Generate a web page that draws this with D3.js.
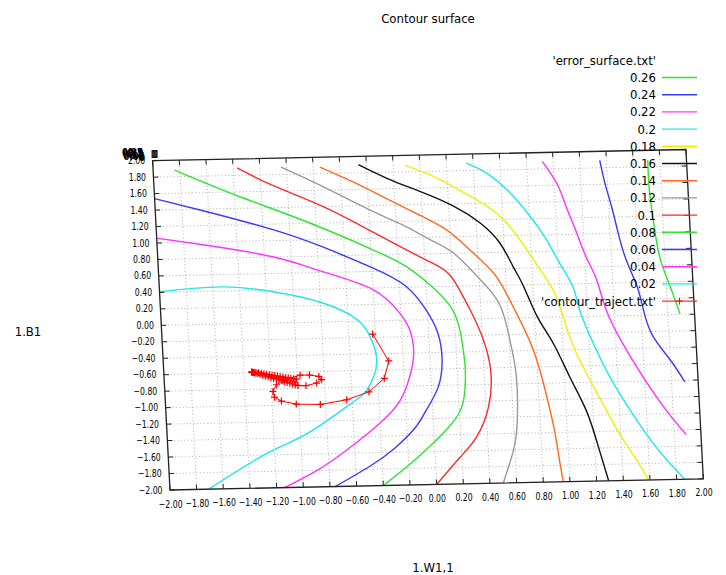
<!DOCTYPE html>
<html><head><meta charset="utf-8">
<script src="https://cdn.jsdelivr.net/npm/d3@7"></script>
<style>
html,body{margin:0;padding:0;background:#fff;}
svg{display:block;}
text{font-family:"DejaVu Sans Condensed","DejaVu Sans",sans-serif;font-stretch:condensed;fill:#000;}
</style></head><body>
<svg id="chart" width="726" height="575"></svg>
<script>
// Contour levels of the error surface (legend order, top to bottom)
const levelLabels = ["0.26","0.24","0.22","0.2","0.18","0.16","0.14","0.12","0.1","0.08","0.06","0.04","0.02"];
const levelColors = ["#2ee62e","#3a3aff","#ff33ff","#1ee8e8","#f0f000","#111111","#ff6a1f","#9a9a9a","#ff2a2a","#2ee62e","#3a3aff","#ff33ff","#1ee8e8"];

// Iso-lines, as (W1,1 ; B1) pairs
const contour026 = [[1.71,1.88],[1.71,1.52],[1.73,1.11],[1.76,0.71],[1.82,0.38],[1.89,0.01]];
const contour024 = [[1.35,1.89],[1.38,1.61],[1.42,1.33],[1.46,1.00],[1.51,0.67],[1.58,0.35],[1.62,0.05],[1.68,-0.26],[1.80,-0.55],[1.90,-0.82]];
const contour022 = [[0.92,1.89],[1.02,1.62],[1.08,1.34],[1.15,1.01],[1.21,0.72],[1.28,0.44],[1.34,0.07],[1.45,-0.34],[1.59,-0.75],[1.75,-1.16],[1.89,-1.46]];
const contour020 = [[0.35,1.89],[0.50,1.76],[0.67,1.51],[0.81,1.22],[0.92,0.94],[1.01,0.65],[1.10,0.36],[1.14,0.08],[1.23,-0.33],[1.34,-0.74],[1.48,-1.15],[1.64,-1.56],[1.78,-1.85],[1.86,-2.00]];
const contour018 = [[-0.11,1.88],[0.07,1.76],[0.24,1.61],[0.49,1.36],[0.65,1.11],[0.77,0.82],[0.88,0.53],[0.97,0.25],[1.03,-0.10],[1.10,-0.45],[1.24,-0.94],[1.39,-1.43],[1.51,-1.76],[1.59,-2.00]];
const contour016 = [[-0.46,1.90],[-0.23,1.71],[-0.01,1.56],[0.24,1.37],[0.43,1.16],[0.57,0.91],[0.66,0.62],[0.73,0.38],[0.82,0.01],[0.93,-0.32],[1.04,-0.73],[1.15,-1.14],[1.22,-1.54],[1.29,-2.00]];
const contour014 = [[-0.75,1.88],[-0.48,1.67],[-0.24,1.46],[-0.02,1.27],[0.18,1.08],[0.34,0.84],[0.51,0.55],[0.62,0.22],[0.76,-0.31],[0.84,-0.80],[0.90,-1.33],[0.93,-1.74],[0.95,-2.00]];
const contour012 = [[-1.04,1.89],[-0.73,1.64],[-0.37,1.33],[-0.12,1.13],[0.05,0.97],[0.22,0.80],[0.41,0.47],[0.55,0.14],[0.61,-0.31],[0.64,-0.71],[0.63,-1.24],[0.59,-1.60],[0.50,-2.00]];
const contour010 = [[-1.37,1.89],[-1.11,1.67],[-0.74,1.40],[-0.38,1.08],[-0.13,0.85],[0.04,0.70],[0.17,0.56],[0.25,0.35],[0.32,0.11],[0.40,-0.22],[0.45,-0.63],[0.42,-1.07],[0.32,-1.43],[0.19,-1.67],[0.00,-2.00]];
const contour008 = [[-1.84,1.88],[-1.36,1.54],[-0.87,1.22],[-0.38,0.86],[-0.14,0.65],[0.03,0.42],[0.19,0.11],[0.245,-0.25],[0.26,-0.58],[0.25,-0.85],[0.21,-1.10],[0.10,-1.33],[-0.04,-1.54],[-0.21,-1.77],[-0.40,-2.00]];
const contour006 = [[-2.00,1.54],[-1.62,1.37],[-1.12,1.13],[-0.76,0.91],[-0.39,0.64],[-0.15,0.41],[-0.01,0.12],[0.07,-0.17],[0.09,-0.49],[0.05,-0.82],[-0.05,-1.10],[-0.14,-1.31],[-0.30,-1.55],[-0.49,-1.76],[-0.76,-2.00]];
const contour004 = [[-2.00,1.06],[-1.63,0.96],[-1.13,0.80],[-0.77,0.61],[-0.40,0.38],[-0.21,0.09],[-0.14,-0.12],[-0.12,-0.40],[-0.16,-0.69],[-0.24,-0.97],[-0.40,-1.24],[-0.66,-1.56],[-0.89,-1.80],[-1.14,-2.00]];
const contour002 = [[-2.00,0.41],[-1.75,0.44],[-1.50,0.45],[-1.15,0.38],[-0.78,0.23],[-0.53,0.02],[-0.44,-0.19],[-0.40,-0.44],[-0.43,-0.68],[-0.51,-0.88],[-0.64,-1.03],[-0.95,-1.35],[-1.26,-1.58],[-1.71,-2.00]];
const contourByLevel = [contour026,contour024,contour022,contour020,contour018,contour016,contour014,contour012,contour010,contour008,contour006,contour004,contour002];

// Weight trajectory during training
const trajectory = [[-0.42,-0.16],[-0.31,-0.49],[-0.35,-0.70],[-0.47,-0.86],[-0.64,-0.95],[-0.84,-1.00],[-1.02,-0.99],[-1.13,-0.95],[-1.18,-0.90],[-1.19,-0.83],[-1.16,-0.75],[-1.11,-0.70],[-0.98,-0.64],[-0.91,-0.64],[-0.84,-0.66],[-0.82,-0.70],[-0.86,-0.74],[-0.94,-0.77],
  [-1.00,-0.765],[-1.01,-0.687],[-1.02,-0.756],[-1.03,-0.681],[-1.04,-0.745],[-1.05,-0.675],[-1.06,-0.735],[-1.07,-0.669],[-1.08,-0.724],[-1.09,-0.663],[-1.10,-0.714],[-1.11,-0.657],[-1.12,-0.703],[-1.13,-0.650],[-1.14,-0.693],[-1.15,-0.644],[-1.16,-0.682],[-1.17,-0.638],[-1.18,-0.672],[-1.19,-0.632],[-1.20,-0.662],[-1.21,-0.626],[-1.22,-0.651],[-1.23,-0.620],[-1.24,-0.641],[-1.25,-0.613],[-1.26,-0.631],[-1.27,-0.607],[-1.28,-0.620],[-1.29,-0.601],[-1.30,-0.610],[-1.31,-0.597],[-1.32,-0.602],[-1.325,-0.594],[-1.33,-0.597],[-1.335,-0.591],[-1.34,-0.592],[-1.342,-0.588]];

const xTickValues = [-2.0,-1.8,-1.6,-1.4,-1.2,-1.0,-0.8,-0.6,-0.4,-0.2,0.0,0.2,0.4,0.6,0.8,1.0,1.2,1.4,1.6,1.8,2.0];
const yTickValues = [-2.0,-1.8,-1.6,-1.4,-1.2,-1.0,-0.8,-0.6,-0.4,-0.2,0.0,0.2,0.4,0.6,0.8,1.0,1.2,1.4,1.6,1.8,2.0];
const zTickLabels = ["0.3","0.25","0.2","0.15","0.1","0.05","0"];

const svg = d3.select("#chart");
svg.append("rect").attr("width",726).attr("height",575).attr("fill","#fff");

// Base plane seen from a slightly rotated viewpoint: an affine map of the two scales
const sx = d3.scaleLinear().domain([-2,2]).range([0,1]);
const sy = d3.scaleLinear().domain([-2,2]).range([0,1]);
const O = [170,490], U = [533.3,-11.2], V = [-17.4,-329.3];
function proj(x,y){ const a=sx(x), b=sy(y); return [O[0]+U[0]*a+V[0]*b, O[1]+U[1]*a+V[1]*b]; }
const uLen = Math.hypot(U[0],U[1]), vLen = Math.hypot(V[0],V[1]);
const uDir = [U[0]/uLen,U[1]/uLen], vDir = [V[0]/vLen,V[1]/vLen];

const fmt = d3.format(".2f");

// grid
const grid = svg.append("g").attr("stroke","#a8a8a8").attr("stroke-width",0.9).attr("stroke-dasharray","1,2.4");
xTickValues.forEach(v=>{ const p=proj(v,-2), q=proj(v,2);
  grid.append("line").attr("x1",p[0]).attr("y1",p[1]).attr("x2",q[0]).attr("y2",q[1]); });
yTickValues.forEach(v=>{ const p=proj(-2,v), q=proj(2,v);
  grid.append("line").attr("x1",p[0]).attr("y1",p[1]).attr("x2",q[0]).attr("y2",q[1]); });

// contours
const line = d3.line().x(d=>proj(d[0],d[1])[0]).y(d=>proj(d[0],d[1])[1]).curve(d3.curveNatural);
contourByLevel.forEach((c,i)=>{
  svg.append("path").attr("d",line(c)).attr("fill","none").attr("stroke",levelColors[i]).attr("stroke-width",1.4);
});

// trajectory
const tline = d3.line().x(d=>proj(d[0],d[1])[0]).y(d=>proj(d[0],d[1])[1]);
svg.append("path").attr("d",tline(trajectory)).attr("fill","none").attr("stroke","#ff0000").attr("stroke-width",1);
const plus = "M-3.5,0H3.5M0,-3.5V3.5";
svg.append("g").selectAll("path").data(trajectory).join("path")
  .attr("d",plus).attr("transform",d=>{const p=proj(d[0],d[1]);return `translate(${p[0]},${p[1]})`;})
  .attr("stroke","#ff0000").attr("stroke-width",1.2).attr("fill","none");

// border
const corners = [proj(-2,-2),proj(2,-2),proj(2,2),proj(-2,2)];
svg.append("path").attr("d","M"+corners.map(p=>p.join(",")).join("L")+"Z")
  .attr("fill","none").attr("stroke","#222").attr("stroke-width",1.3);

// ticks
const ticks = svg.append("g").attr("stroke","#222").attr("stroke-width",1);
const tl = 5;
xTickValues.forEach(v=>{
  let p=proj(v,-2); ticks.append("line").attr("x1",p[0]).attr("y1",p[1]).attr("x2",p[0]+vDir[0]*tl).attr("y2",p[1]+vDir[1]*tl);
  p=proj(v,2); ticks.append("line").attr("x1",p[0]).attr("y1",p[1]).attr("x2",p[0]-vDir[0]*tl).attr("y2",p[1]-vDir[1]*tl);
});
yTickValues.forEach(v=>{
  let p=proj(-2,v); ticks.append("line").attr("x1",p[0]).attr("y1",p[1]).attr("x2",p[0]+uDir[0]*tl).attr("y2",p[1]+uDir[1]*tl);
  p=proj(2,v); ticks.append("line").attr("x1",p[0]).attr("y1",p[1]).attr("x2",p[0]-uDir[0]*tl).attr("y2",p[1]-uDir[1]*tl);
});

// tick labels (narrow lettering)
const tfs = 10, squeeze = 0.86;
xTickValues.forEach(v=>{ const p=proj(v,-2);
  svg.append("text").attr("transform",`translate(${p[0]+0.7},${p[1]+14}) scale(${squeeze},1)`).attr("dy","0.35em")
    .attr("text-anchor","middle").attr("font-size",tfs).text(fmt(v)); });
yTickValues.forEach(v=>{ const p=proj(-2,v);
  svg.append("text").attr("transform",`translate(${p[0]-7.5},${p[1]}) scale(${squeeze},1)`).attr("dy","0.35em")
    .attr("text-anchor","end").attr("font-size",tfs).text(fmt(v)); });

// vertical axis seen end-on: its ticks and labels pile up at one corner
const zc = proj(-2,2);
zTickLabels.forEach((t,i)=>{
  svg.append("text").attr("transform",`translate(${zc[0]-10+i*0.4},${zc[1]-9+i*0.9}) scale(${squeeze},1)`).attr("dy","0.35em")
    .attr("text-anchor","end").attr("font-size",11).attr("font-weight","bold").text(t);
  svg.append("line").attr("x1",zc[0]-1).attr("x2",zc[0]+5).attr("y1",zc[1]-10+i*1.1).attr("y2",zc[1]-10+i*1.1)
    .attr("stroke","#000").attr("stroke-width",1.2);
});

// titles
const lfs = 13;
svg.append("text").attr("x",428).attr("y",18).attr("dy","0.35em").attr("text-anchor","middle").attr("font-size",lfs).text("Contour surface");
svg.append("text").attr("x",28).attr("y",331).attr("dy","0.35em").attr("text-anchor","middle").attr("font-size",lfs).text("1.B1");
svg.append("text").attr("x",433).attr("y",567).attr("dy","0.35em").attr("text-anchor","middle").attr("font-size",lfs).text("1.W1,1");

// legend
const lgX = 656, lgY0 = 60.3, lgStep = 17.2, lgL1 = 662, lgL2 = 697;
svg.append("text").attr("x",lgX).attr("y",lgY0).attr("dy","0.35em").attr("text-anchor","end").attr("font-size",lfs).text("'error_surface.txt'");
levelLabels.forEach((t,i)=>{
  const y = lgY0 + (i+1)*lgStep;
  svg.append("text").attr("x",lgX).attr("y",y).attr("dy","0.35em").attr("text-anchor","end").attr("font-size",lfs).text(t);
  svg.append("line").attr("x1",lgL1).attr("x2",lgL2).attr("y1",y).attr("y2",y).attr("stroke",levelColors[i]).attr("stroke-width",1.4);
});
const ty = lgY0 + 14*lgStep;
svg.append("text").attr("x",lgX).attr("y",ty).attr("dy","0.35em").attr("text-anchor","end").attr("font-size",lfs).text("'contour_traject.txt'");
svg.append("line").attr("x1",lgL1).attr("x2",lgL2).attr("y1",ty).attr("y2",ty).attr("stroke","#ff0000").attr("stroke-width",1);
svg.append("path").attr("d",plus).attr("transform",`translate(${(lgL1+lgL2)/2},${ty})`).attr("stroke","#ff0000").attr("fill","none");
</script></body></html>
